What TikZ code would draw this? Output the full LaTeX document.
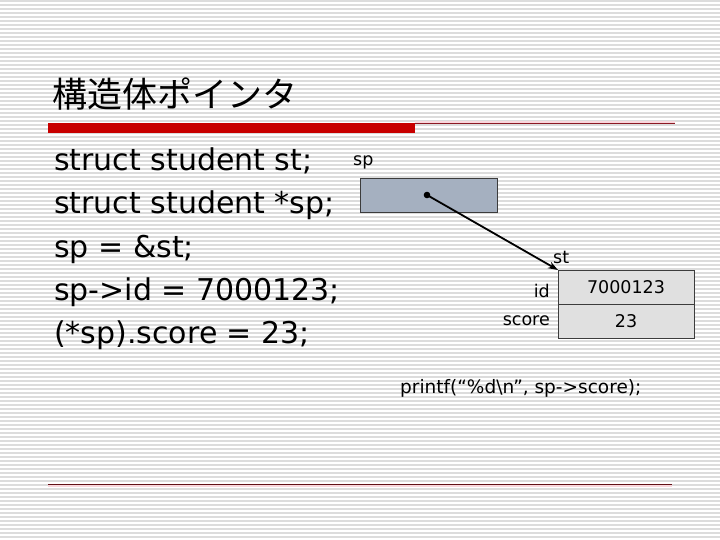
\documentclass[tikz,border=0pt]{standalone}
\usepackage{fontspec}
\setmainfont{DejaVu Sans}
\newfontfamily\cjk{Noto Sans CJK JP}
\usetikzlibrary{arrows.meta}
\definecolor{stripe}{RGB}{220,220,220}
\definecolor{barred}{RGB}{200,0,0}
\definecolor{thinred}{RGB}{140,25,35}
\definecolor{pinkshadow}{RGB}{248,215,220}
\definecolor{spfill}{RGB}{165,176,192}
\definecolor{cellfill}{RGB}{224,224,224}
\definecolor{boxline}{RGB}{60,60,60}
\tikzset{
  stripeline/.style={draw=stripe, line width=1.3pt},
  codeline/.style={anchor=base west, inner sep=0pt, font=\fontsize{30}{36}\selectfont},
  smalltext/.style={inner sep=0pt, font=\fontsize{17.5}{21}\selectfont},
  cellbox/.style={draw=boxline, line width=0.9pt, fill=cellfill, minimum width=136pt, minimum height=34pt, inner sep=0pt, outer sep=0pt, font=\fontsize{17.5}{21}\selectfont},
  ptrbox/.style={draw=boxline, line width=0.9pt, fill=spfill, minimum width=137pt, minimum height=34pt, inner sep=0pt, outer sep=0pt},
  pointer/.style={line width=1.8pt, -{Stealth[length=10pt,width=7pt]}}
}
\begin{document}
\begin{tikzpicture}[x=1pt,y=-1pt]
\useasboundingbox (0,0) rectangle (720,540);
\fill[white] (0,0) rectangle (720,540);
\foreach \yy in {1,5,...,540} { \draw[stripeline] (0,\yy) -- (720,\yy); }
% title
\node[anchor=base west, inner sep=0pt, font=\cjk\fontsize{35}{40}\selectfont] (title) at (52,108) {構造体ポインタ};
% title rule
\draw[pinkshadow, line width=2.5pt] (415,122.5) -- (675,122.5);
\draw[thinred, line width=1.2pt] (415,123.5) -- (675,123.5);
\fill[barred] (48,123) rectangle (415,133);
% bottom rule
\draw[pinkshadow, line width=2.5pt] (48,486) -- (672,486);
\draw[thinred!70!black, line width=1.2pt] (48,484.5) -- (672,484.5);
% code
\node[codeline] (c1) at (54,171) {struct student st;};
\node[codeline] (c2) at (54,214) {struct student *sp;};
\node[codeline] (c3) at (54,257) {sp = \&st;};
\node[codeline] (c4) at (54,300) {sp->id = 7000123;};
\node[codeline] (c5) at (54,343) {(*sp).score = 23;};
% pointer variable
\node[smalltext, anchor=base west] (splabel) at (353,166) {sp};
\node[ptrbox] (spbox) at (428.5,195) {};
\coordinate (spdot) at (427,195);
\fill (spdot) circle (3.3pt);
% struct
\node[cellbox] (idcell) at (626,287) {7000123};
\node[cellbox, anchor=north] (scorecell) at (idcell.south) {23};
\node[smalltext, anchor=base west] (stlabel) at (553,263) {st};
\node[smalltext, anchor=base east] (idlabel) at (550,297) {id};
\node[smalltext, anchor=base east] (scorelabel) at (550,325) {score};
\draw[pointer] (spdot) -- (idcell.north west);
% printf
\node[smalltext, anchor=base west, font=\fontsize{18.5}{22}\selectfont] (printf) at (400,393) {printf(“\%d\textbackslash n”, sp->score);};
\end{tikzpicture}
\end{document}
